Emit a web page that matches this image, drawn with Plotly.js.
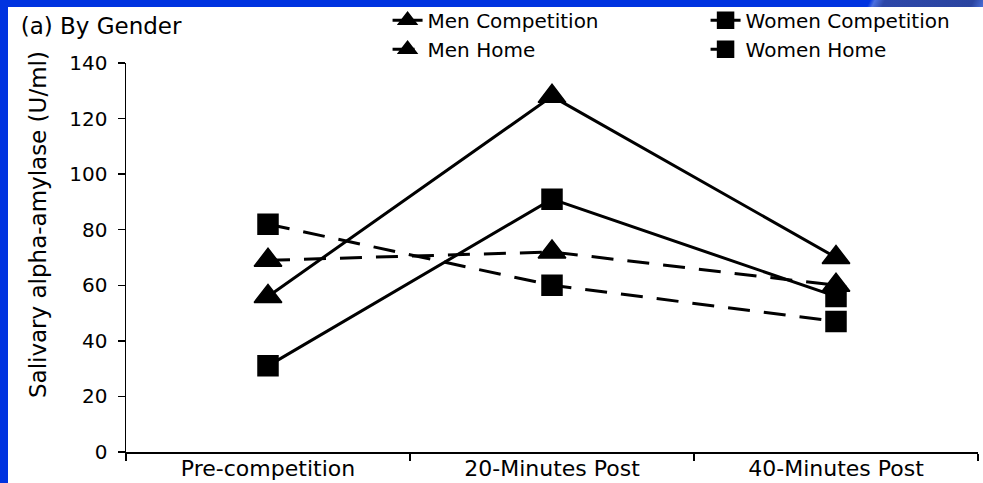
<!DOCTYPE html>
<html>
<head>
<meta charset="utf-8">
<script src="https://cdn.plot.ly/plotly-3.0.1.min.js"></script>
<style>
  html, body { margin: 0; padding: 0; width: 983px; height: 483px; overflow: hidden; background: #0033e0; }
  #deco { position: absolute; left: 860px; top: 0; width: 123px; height: 7px;
          background: linear-gradient(115deg, #0033e0 0%, #0033e0 8%, #4a6fe0 12%, #2d47a8 20%, #2a44a0 90%, #4a6fd8 100%); }
  #chart { position: absolute; left: 8px; top: 7px; width: 975px; height: 476px; background: #fff; }
</style>
</head>
<body>
<div id="deco"></div>
<div id="chart"></div>
<script>
const categories = ["Pre-competition", "20-Minutes Post", "40-Minutes Post"];
const menCompetition = [56, 128, 70];
const womenCompetition = [31, 91, 56];
const menHome = [69, 72, 60];
const womenHome = [82, 60, 47];
const yTickValues = [0, 20, 40, 60, 80, 100, 120, 140];

const FONT = "DejaVu Sans, Verdana, sans-serif";

function series(name, y, symbol, dash, size) {
  return {
    type: "scatter", mode: "lines+markers", name: name,
    x: categories, y: y,
    line: { color: "#000", width: 3, dash: dash },
    marker: { symbol: symbol, size: size, color: "#000", line: { color: "#000", width: 1.5 } },
    cliponaxis: false
  };
}

const data = [
  series("Men Competition", menCompetition, "triangle-up", "solid", 24),
  series("Women Competition", womenCompetition, "square", "solid", 20),
  series("Men Home", menHome, "triangle-up", "22px,14px", 24),
  series("Women Home", womenHome, "square", "22px,14px", 20)
];

const layout = {
  width: 975, height: 476,
  margin: { l: 118, r: 5, t: 56, b: 31, autoexpand: false },
  paper_bgcolor: "#fff", plot_bgcolor: "#fff",
  font: { family: FONT, color: "#000", size: 20 },
  showlegend: true,
  title: { text: "(a) By Gender", font: { family: FONT, size: 23, color: "#000" },
           xref: "container", yref: "container", x: 0.013, xanchor: "left", y: 0.96, yanchor: "middle" },
  legend: {
    orientation: "h", x: 0.307, xanchor: "left", y: 1.16, yanchor: "top",
    entrywidth: 273, entrywidthmode: "pixels",
    font: { family: FONT, size: 20, color: "#000" },
    bgcolor: "rgba(0,0,0,0)", borderwidth: 0, itemclick: false
  },
  xaxis: {
    type: "category", range: [-0.5, 2.5], tickson: "boundaries",
    showline: true, linecolor: "#000", linewidth: 1.5, mirror: false,
    ticks: "outside", ticklen: 7, tickwidth: 1.5, tickcolor: "#000",
    ticklabelstandoff: -4,
    showgrid: false, zeroline: false,
    tickfont: { family: FONT, size: 22, color: "#000" }
  },
  yaxis: {
    range: [0, 140], tickvals: yTickValues, ticktext: yTickValues.map(String),
    showline: true, linecolor: "#000", linewidth: 1.5,
    ticks: "outside", ticklen: 7, tickwidth: 1.5, tickcolor: "#000",
    ticklabelstandoff: 6,
    showgrid: false, zeroline: false,
    tickfont: { family: FONT, size: 20, color: "#000" }
  },
  annotations: [{
    text: "Salivary alpha-amylase (U/ml)", textangle: -90,
    xref: "paper", yref: "paper", x: -0.103, y: 0.584, xanchor: "center", yanchor: "middle",
    showarrow: false, font: { family: FONT, size: 23, color: "#000" }
  }]
};

Plotly.newPlot("chart", data, layout, { displayModeBar: false, staticPlot: true });
</script>
</body>
</html>
